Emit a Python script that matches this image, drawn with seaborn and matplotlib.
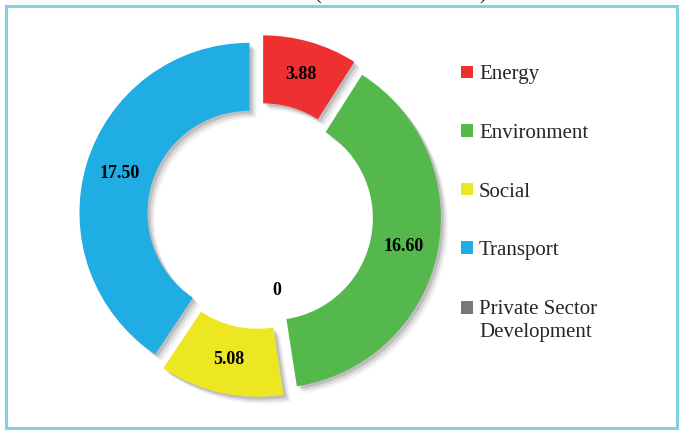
import matplotlib
matplotlib.use('Agg')
import matplotlib.pyplot as plt
import matplotlib.patheffects as pe
from matplotlib.patches import Rectangle, Patch
from matplotlib.legend_handler import HandlerPatch
import numpy as np
import seaborn as sns

sectors = ['Energy', 'Environment', 'Social', 'Transport', 'Private Sector Development']
legend_labels = ['Energy', 'Environment', 'Social', 'Transport', 'Private Sector\nDevelopment']
amounts = [3.88, 16.60, 5.08, 17.50, 0]
amount_labels = ['3.88', '16.60', '5.08', '17.50', '0']
colors = ['#EE3130', '#55B84D', '#EDE622', '#1FADE4', '#77787B']

sns.set_theme(style="white")
plt.rcParams['font.family'] = ['Liberation Serif', 'DejaVu Serif']

fig = plt.figure(figsize=(6.82, 4.32), dpi=100)
ax = fig.add_axes([0.0697, 0.0081, 0.6232, 0.9838])

shadow = [pe.SimplePatchShadow(offset=(5, -5), shadow_rgbFace='k', alpha=0.06),
          pe.SimplePatchShadow(offset=(3.5, -3.5), shadow_rgbFace='k', alpha=0.10),
          pe.SimplePatchShadow(offset=(2, -2), shadow_rgbFace='k', alpha=0.15),
          pe.Normal()]

wedges, _ = ax.pie(amounts, colors=sns.color_palette(colors), startangle=90,
                   counterclock=False, radius=1.0,
                   explode=[0.065] * len(amounts),
                   wedgeprops=dict(width=0.40, edgecolor='none', linewidth=0))

for w, v, lab in zip(wedges, amounts, amount_labels):
    if v > 0:
        w.set_path_effects(shadow)
        ang = np.deg2rad((w.theta1 + w.theta2) / 2)
        cx, cy = w.center
        ax.text(cx + 0.8 * np.cos(ang), cy + 0.8 * np.sin(ang), lab,
                ha='center', va='center', fontsize=13, fontweight='bold', color='black')
    else:
        ax.text(0.1, -0.44, lab, ha='center', va='center', fontsize=13,
                fontweight='bold', color='black')

ax.set_xlim(-1.25, 1.25)
ax.set_ylim(-1.25, 1.25)
ax.set_aspect('equal')
ax.axis('off')


def raised_square(legend, orig_handle, xdescent, ydescent, width, height, fontsize):
    # marker next to the first line of a two-line label
    return Rectangle((-xdescent, -ydescent + 0.62 * fontsize), width, height)


handles = [Patch(facecolor=c, edgecolor='none') for c in colors]
leg = fig.legend(handles, legend_labels, loc='upper left', bbox_to_anchor=(0.664, 0.868),
                 frameon=False, fontsize=15, labelspacing=1.9, handlelength=0.55,
                 handleheight=0.55, handletextpad=0.3, borderaxespad=0,
                 handler_map={handles[-1]: HandlerPatch(patch_func=raised_square)})
leg.get_texts()[-1].set_linespacing(1.3)

# partially visible title brackets above the frame
fig.text(318 / 682, 1.012, '(', ha='center', va='center', fontsize=15, color='#222222')
fig.text(483 / 682, 1.012, ')', ha='center', va='center', fontsize=15, color='#222222')

fig.patches.append(Rectangle((6 / 682, 4 / 432), 671 / 682, 422 / 432,
                             transform=fig.transFigure, fill=False,
                             edgecolor='#7FD3E0', linewidth=2.2))

fig.savefig('out.png', dpi=100)
